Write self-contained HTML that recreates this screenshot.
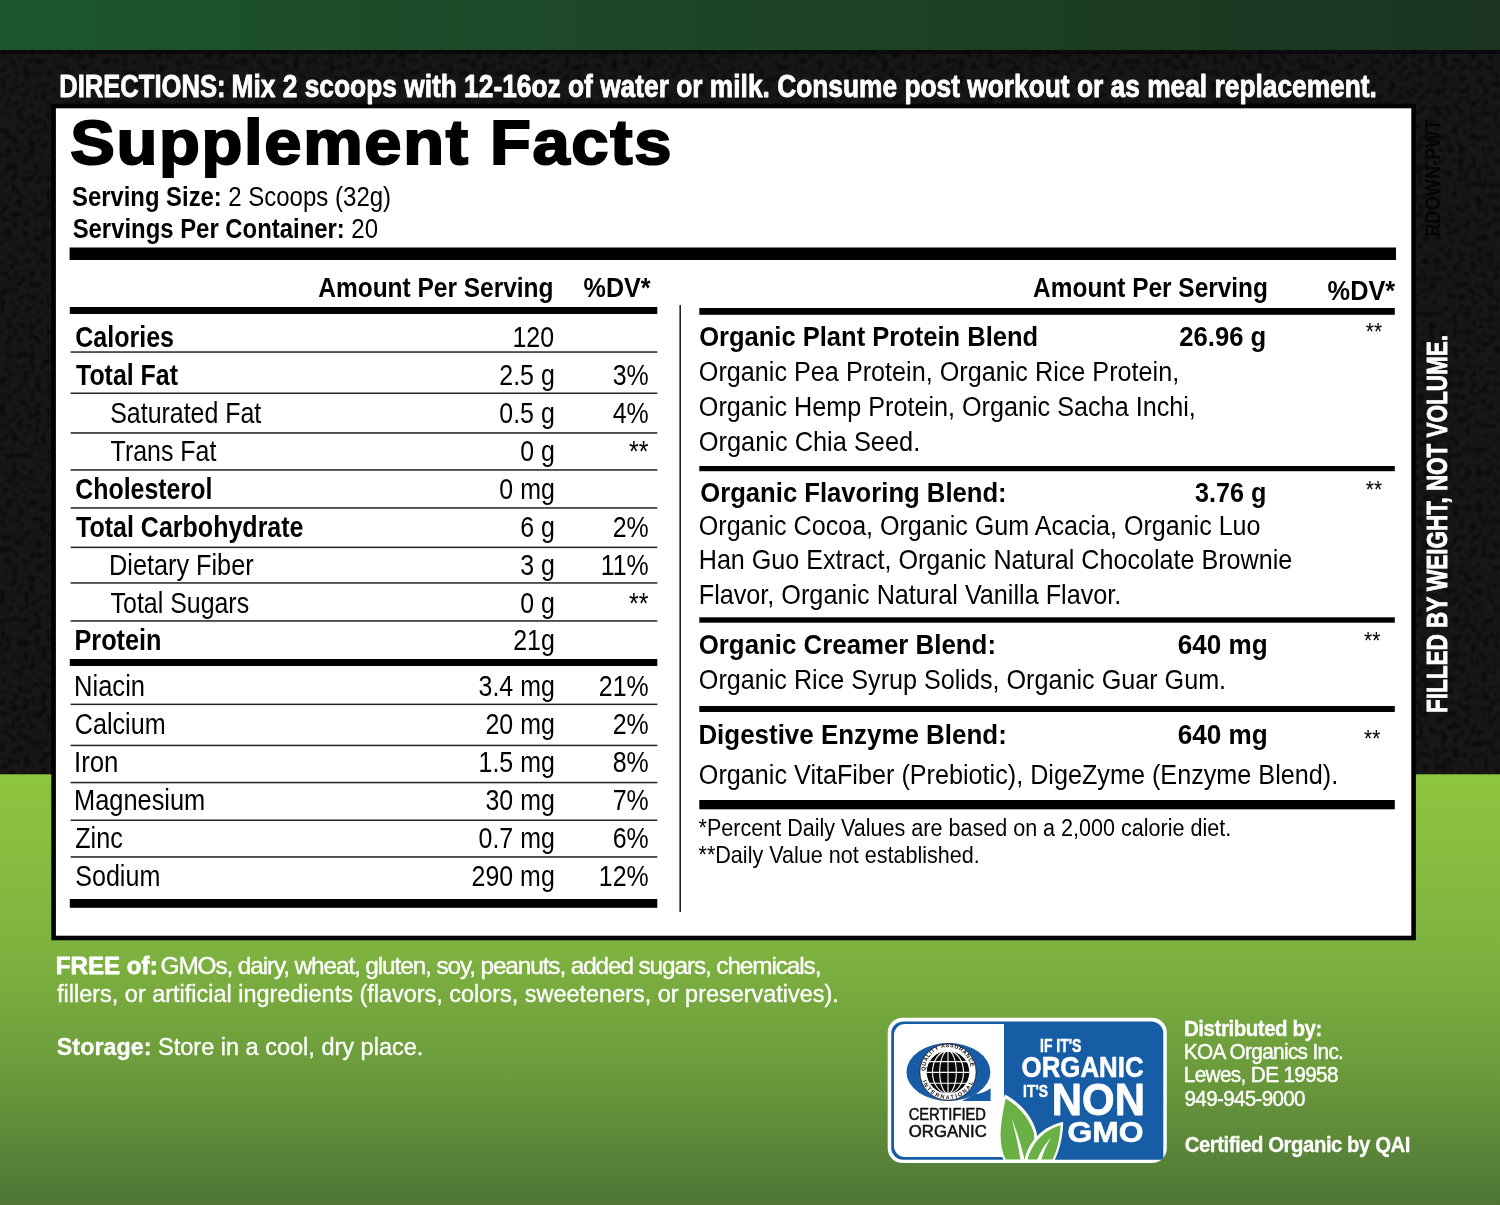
<!DOCTYPE html>
<html><head><meta charset="utf-8"><title>Supplement Facts</title>
<style>
html,body{margin:0;padding:0;background:#111;}
svg{display:block;font-family:'Liberation Sans', sans-serif;}
text{white-space:pre;}
</style></head><body>
<svg width="1500" height="1205" viewBox="0 0 1500 1205">
<defs>
<linearGradient id="gtop" x1="0" x2="1" y1="0" y2="0"><stop offset="0" stop-color="#1c562c"/><stop offset="0.5" stop-color="#1c4426"/><stop offset="1" stop-color="#1a3420"/></linearGradient>
<linearGradient id="gbot" x1="0" x2="0" y1="0" y2="1"><stop offset="0" stop-color="#8dc63f"/><stop offset="0.4" stop-color="#7fb340"/><stop offset="0.7" stop-color="#6a9a3b"/><stop offset="1" stop-color="#4e7536"/></linearGradient>
<filter id="noise" x="0" y="0" width="100%" height="100%"><feTurbulence type="fractalNoise" baseFrequency="0.17" numOctaves="2" seed="7"/><feColorMatrix type="matrix" values="0 0 0 0 0  0 0 0 0 0  0 0 0 0 0  0 0 0 -4.5 2.35"/><feGaussianBlur stdDeviation="0.8"/></filter>
</defs>
<rect x="0" y="0" width="1500" height="1205" fill="#181818"/>
<rect x="0" y="50" width="1500" height="725" fill="#000" filter="url(#noise)" opacity="0.55"/>
<rect x="0" y="50" width="1500" height="4" fill="#000" opacity="0.5"/>
<rect x="0" y="0" width="1500" height="50" fill="url(#gtop)"/>
<rect x="0" y="774.3" width="1500" height="431" fill="url(#gbot)"/>
<rect x="53.6" y="106" width="1360" height="832" fill="#fff" stroke="#000" stroke-width="4.6"/>
<rect x="69.6" y="247.5" width="1326.4" height="12.5" fill="#000"/>
<rect x="69.8" y="307" width="587.5" height="7" fill="#000"/>
<rect x="70.6" y="351.3" width="586.7" height="1.5" fill="#222"/>
<rect x="70.6" y="392.5" width="586.7" height="1.5" fill="#222"/>
<rect x="70.6" y="432.2" width="586.7" height="1.5" fill="#222"/>
<rect x="70.6" y="469.2" width="586.7" height="1.5" fill="#222"/>
<rect x="70.6" y="507.2" width="586.7" height="1.5" fill="#222"/>
<rect x="70.6" y="546.6" width="586.7" height="1.5" fill="#222"/>
<rect x="70.6" y="582.2" width="586.7" height="1.5" fill="#222"/>
<rect x="70.6" y="620.2" width="586.7" height="1.5" fill="#222"/>
<rect x="70.6" y="703.6" width="586.7" height="1.5" fill="#222"/>
<rect x="70.6" y="744.7" width="586.7" height="1.5" fill="#222"/>
<rect x="70.6" y="781.8000000000001" width="586.7" height="1.5" fill="#222"/>
<rect x="70.6" y="819.5" width="586.7" height="1.5" fill="#222"/>
<rect x="70.6" y="856.2" width="586.7" height="1.5" fill="#222"/>
<rect x="69.8" y="659" width="587.5" height="7" fill="#000"/>
<rect x="69.8" y="899" width="587.5" height="8.8" fill="#000"/>
<rect x="679.4" y="305" width="1.6" height="607" fill="#222"/>
<rect x="699.3" y="308" width="695.5" height="6.8" fill="#000"/>
<rect x="699.3" y="466" width="695.5" height="5.2" fill="#000"/>
<rect x="699.3" y="617.3" width="695.5" height="5.4" fill="#000"/>
<rect x="699.3" y="706" width="695.5" height="6" fill="#000"/>
<rect x="699.3" y="800" width="695.5" height="9.3" fill="#000"/>
<text transform="translate(1446.8,713) rotate(-90)" font-size="29" font-weight="bold" fill="#fff" stroke="#fff" stroke-width="0.9" textLength="378" lengthAdjust="spacingAndGlyphs">FILLED BY WEIGHT, NOT VOLUME.</text>
<text transform="translate(1440,236.5) rotate(-90)" font-size="22" font-weight="bold" fill="#050505" textLength="117" lengthAdjust="spacingAndGlyphs">RDOWN-PWT</text>

<g id="badge">
<rect x="887.7" y="1017.7" width="279.1" height="145.4" rx="15" ry="15" fill="#fff"/>
<path d="M903.2 1021.4 H1151.3 a12 12 0 0 1 12 12 V1156.8 a3 3 0 0 1 -3 3 H903.2 a12 12 0 0 1 -12 -12 V1033.4 a12 12 0 0 1 12 -12 Z" fill="#175da6"/>
<path d="M1004 1024.1 H905 a11 11 0 0 0 -11 11 V1146 a11 11 0 0 0 11 11 H1004 Z" fill="#fff"/>
<!-- Q mark -->
<ellipse cx="948.4" cy="1072" rx="42" ry="29" fill="#175da6"/>
<path d="M962 1101 H990.6 V1088.2 C986 1091.5 981 1093.5 975 1094 Z" fill="#175da6"/>
<circle cx="948" cy="1072.1" r="28.2" fill="#fff" stroke="#111" stroke-width="0.8"/>
<circle cx="948" cy="1072.2" r="21.3" fill="#0a0a0a"/>
<g fill="none" stroke="#fff" stroke-width="1.1">
<line x1="948" y1="1051" x2="948" y2="1093.5"/>
<ellipse cx="948" cy="1072.2" rx="8.3" ry="21.3"/>
<ellipse cx="948" cy="1072.2" rx="15.5" ry="21.3"/>
<line x1="929" y1="1061.6" x2="967" y2="1061.6"/>
<line x1="926.7" y1="1072.4" x2="969.3" y2="1072.4"/>
<line x1="929" y1="1083.2" x2="967" y2="1083.2"/>
</g>
<path id="qaiTop" d="M925.33 1071.01 A22.7 22.7 0 1 1 970.67 1071.01" fill="none"/>
<path id="qaiBot" d="M922.47 1080.99 A27.0 27.0 0 0 0 973.03 1082.31" fill="none"/>
<text font-size="5.6" font-weight="bold" fill="#111"><textPath href="#qaiTop" textLength="68.9" lengthAdjust="spacing">QUALITY ASSURANCE</textPath></text>
<text font-size="5.6" font-weight="bold" fill="#111"><textPath href="#qaiBot" textLength="65.5" lengthAdjust="spacing">INTERNATIONAL</textPath></text>
<!-- leaves -->
<path d="M1005 1094.5 C1017 1101 1031 1113 1036.5 1132 C1038.5 1141 1034 1152 1027 1160.5 H1003.8 C998.5 1150 996.8 1138 998.6 1124 C1000 1113 1002.5 1102 1005 1094.5 Z" fill="#fff"/>
<path d="M1005.8 1098.5 C1016.5 1105 1028.5 1116 1033.8 1132.5 C1035.6 1141 1031.5 1151 1025.5 1159.6 H1005.6 C1001 1150 999.6 1138 1001.2 1125 C1002.2 1115 1004 1106 1005.8 1098.5 Z" fill="#69b145"/>
<path d="M1011.5 1118 C1016.5 1130 1021.5 1146 1024.5 1159.8 L1020.5 1159.8 C1018.5 1146 1015 1131 1011.5 1118 Z" fill="#fff"/>
<path d="M1063.2 1121.8 C1051 1124.5 1040.5 1131 1033 1141 C1028.5 1147 1025.5 1154 1024.5 1160.5 H1054.5 C1060 1149 1063 1135 1063.2 1121.8 Z" fill="#fff"/>
<path d="M1060.6 1125.2 C1050.5 1128 1042 1134 1035.5 1142.5 C1031.5 1148 1028.8 1154 1027.6 1159.6 H1052.6 C1057.6 1149 1060.2 1137 1060.6 1125.2 Z" fill="#69b145"/>
<path d="M1051.5 1137 C1045 1144 1040 1152 1037.2 1159.8 L1041.3 1159.8 C1043.5 1152 1047 1144 1051.5 1137 Z" fill="#fff"/>
</g>

<text transform="translate(59.20,96.60) scale(0.7996,1)" font-size="32" fill="#fff" font-weight="bold" stroke="#fff" stroke-width="0.9" stroke-linejoin="round">DIRECTIONS:</text>
<text transform="translate(231.55,96.60) scale(0.8227,1)" font-size="32" fill="#fff" font-weight="bold" stroke="#fff" stroke-width="0.9" stroke-linejoin="round">Mix 2 scoops with 12-16oz of water or milk. Consume post workout or as meal replacement.</text>
<text transform="translate(70.16,164.20) scale(1.0711,1)" font-size="62.4" fill="#000" font-weight="bold" letter-spacing="1.6" stroke="#000" stroke-width="2.0" stroke-linejoin="miter">Supplement Facts</text>
<text transform="translate(72.03,205.80) scale(0.8517,1)" font-size="28" fill="#000" font-weight="bold">Serving Size:</text>
<text transform="translate(228.17,205.80) scale(0.8588,1)" font-size="28" fill="#000">2 Scoops (32g)</text>
<text transform="translate(72.63,237.80) scale(0.8538,1)" font-size="28" fill="#000" font-weight="bold">Servings Per Container:</text>
<text transform="translate(351.37,237.80) scale(0.8581,1)" font-size="28" fill="#000">20</text>
<text transform="translate(318.32,296.80) scale(0.8899,1)" font-size="27.5" fill="#000" font-weight="bold">Amount Per Serving</text>
<text transform="translate(583.61,296.80) scale(0.9141,1)" font-size="27.5" fill="#000" font-weight="bold">%DV*</text>
<text transform="translate(1033.12,296.80) scale(0.8888,1)" font-size="27.5" fill="#000" font-weight="bold">Amount Per Serving</text>
<text transform="translate(1327.60,299.50) scale(0.9223,1)" font-size="27.5" fill="#000" font-weight="bold">%DV*</text>
<text transform="translate(75.22,347.00) scale(0.8633,1)" font-size="29" fill="#000" font-weight="bold">Calories</text>
<text transform="translate(512.41,347.00) scale(0.8600,1)" font-size="29" fill="#000">120</text>
<text transform="translate(76.00,385.00) scale(0.8600,1)" font-size="29" fill="#000" font-weight="bold">Total Fat</text>
<text transform="translate(499.33,385.00) scale(0.8600,1)" font-size="29" fill="#000">2.5 g</text>
<text transform="translate(612.70,385.00) scale(0.8600,1)" font-size="29" fill="#000">3%</text>
<text transform="translate(110.22,423.00) scale(0.8600,1)" font-size="29" fill="#000">Saturated Fat</text>
<text transform="translate(499.33,423.00) scale(0.8600,1)" font-size="29" fill="#000">0.5 g</text>
<text transform="translate(612.70,423.00) scale(0.8600,1)" font-size="29" fill="#000">4%</text>
<text transform="translate(110.61,461.00) scale(0.8600,1)" font-size="29" fill="#000">Trans Fat</text>
<text transform="translate(520.13,461.00) scale(0.8600,1)" font-size="29" fill="#000">0 g</text>
<text transform="translate(628.94,461.00) scale(0.8600,1)" font-size="29" fill="#000">**</text>
<text transform="translate(75.22,499.00) scale(0.8600,1)" font-size="29" fill="#000" font-weight="bold">Cholesterol</text>
<text transform="translate(499.36,499.00) scale(0.8600,1)" font-size="29" fill="#000">0 mg</text>
<text transform="translate(76.00,537.00) scale(0.8631,1)" font-size="29" fill="#000" font-weight="bold">Total Carbohydrate</text>
<text transform="translate(520.13,537.00) scale(0.8600,1)" font-size="29" fill="#000">6 g</text>
<text transform="translate(612.70,537.00) scale(0.8600,1)" font-size="29" fill="#000">2%</text>
<text transform="translate(109.02,575.00) scale(0.8718,1)" font-size="29" fill="#000">Dietary Fiber</text>
<text transform="translate(520.13,575.00) scale(0.8600,1)" font-size="29" fill="#000">3 g</text>
<text transform="translate(600.68,575.00) scale(0.8600,1)" font-size="29" fill="#000">11%</text>
<text transform="translate(110.61,613.00) scale(0.8596,1)" font-size="29" fill="#000">Total Sugars</text>
<text transform="translate(520.13,613.00) scale(0.8600,1)" font-size="29" fill="#000">0 g</text>
<text transform="translate(628.94,613.00) scale(0.8600,1)" font-size="29" fill="#000">**</text>
<text transform="translate(74.42,650.00) scale(0.8729,1)" font-size="29" fill="#000" font-weight="bold">Protein</text>
<text transform="translate(513.19,650.00) scale(0.8600,1)" font-size="29" fill="#000">21g</text>
<text transform="translate(74.00,695.80) scale(0.8815,1)" font-size="29" fill="#000">Niacin</text>
<text transform="translate(478.56,695.80) scale(0.8600,1)" font-size="29" fill="#000">3.4 mg</text>
<text transform="translate(598.83,695.80) scale(0.8600,1)" font-size="29" fill="#000">21%</text>
<text transform="translate(74.82,734.20) scale(0.8677,1)" font-size="29" fill="#000">Calcium</text>
<text transform="translate(485.48,734.20) scale(0.8600,1)" font-size="29" fill="#000">20 mg</text>
<text transform="translate(612.70,734.20) scale(0.8600,1)" font-size="29" fill="#000">2%</text>
<text transform="translate(73.98,771.80) scale(0.8898,1)" font-size="29" fill="#000">Iron</text>
<text transform="translate(478.56,771.80) scale(0.8600,1)" font-size="29" fill="#000">1.5 mg</text>
<text transform="translate(612.70,771.80) scale(0.8600,1)" font-size="29" fill="#000">8%</text>
<text transform="translate(74.02,809.80) scale(0.8759,1)" font-size="29" fill="#000">Magnesium</text>
<text transform="translate(485.48,809.80) scale(0.8600,1)" font-size="29" fill="#000">30 mg</text>
<text transform="translate(612.70,809.80) scale(0.8600,1)" font-size="29" fill="#000">7%</text>
<text transform="translate(75.21,847.80) scale(0.8685,1)" font-size="29" fill="#000">Zinc</text>
<text transform="translate(478.56,847.80) scale(0.8600,1)" font-size="29" fill="#000">0.7 mg</text>
<text transform="translate(612.70,847.80) scale(0.8600,1)" font-size="29" fill="#000">6%</text>
<text transform="translate(75.22,885.80) scale(0.8653,1)" font-size="29" fill="#000">Sodium</text>
<text transform="translate(471.61,885.80) scale(0.8600,1)" font-size="29" fill="#000">290 mg</text>
<text transform="translate(598.83,885.80) scale(0.8600,1)" font-size="29" fill="#000">12%</text>
<text transform="translate(699.20,346.00) scale(0.9458,1)" font-size="27" fill="#000" font-weight="bold">Organic Plant Protein Blend</text>
<text transform="translate(1179.20,346.00) scale(0.9518,1)" font-size="27" fill="#000" font-weight="bold">26.96 g</text>
<text transform="translate(698.82,380.50) scale(0.9336,1)" font-size="27" fill="#000">Organic Pea Protein, Organic Rice Protein,</text>
<text transform="translate(698.82,415.50) scale(0.9330,1)" font-size="27" fill="#000">Organic Hemp Protein, Organic Sacha Inchi,</text>
<text transform="translate(698.81,450.70) scale(0.9400,1)" font-size="27" fill="#000">Organic Chia Seed.</text>
<text transform="translate(700.20,502.00) scale(0.9507,1)" font-size="27" fill="#000" font-weight="bold">Organic Flavoring Blend:</text>
<text transform="translate(1194.91,502.00) scale(0.9329,1)" font-size="27" fill="#000" font-weight="bold">3.76 g</text>
<text transform="translate(698.82,534.70) scale(0.9293,1)" font-size="27" fill="#000">Organic Cocoa, Organic Gum Acacia, Organic Luo</text>
<text transform="translate(698.74,569.30) scale(0.9307,1)" font-size="27" fill="#000">Han Guo Extract, Organic Natural Chocolate Brownie</text>
<text transform="translate(698.73,604.00) scale(0.9341,1)" font-size="27" fill="#000">Flavor, Organic Natural Vanilla Flavor.</text>
<text transform="translate(698.69,654.00) scale(0.9577,1)" font-size="27" fill="#000" font-weight="bold">Organic Creamer Blend:</text>
<text transform="translate(1177.68,654.00) scale(0.9671,1)" font-size="27" fill="#000" font-weight="bold">640 mg</text>
<text transform="translate(698.82,688.50) scale(0.9324,1)" font-size="27" fill="#000">Organic Rice Syrup Solids, Organic Guar Gum.</text>
<text transform="translate(698.38,744.00) scale(0.9607,1)" font-size="27" fill="#000" font-weight="bold">Digestive Enzyme Blend:</text>
<text transform="translate(1177.68,744.00) scale(0.9671,1)" font-size="27" fill="#000" font-weight="bold">640 mg</text>
<text transform="translate(698.82,783.50) scale(0.9332,1)" font-size="27" fill="#000">Organic VitaFiber (Prebiotic), DigeZyme (Enzyme Blend).</text>
<text transform="translate(1365.74,340.20) scale(0.8758,1)" font-size="24" fill="#000">**</text>
<text transform="translate(1365.74,497.70) scale(0.8758,1)" font-size="24" fill="#000">**</text>
<text transform="translate(1364.04,648.70) scale(0.8758,1)" font-size="24" fill="#000">**</text>
<text transform="translate(1364.04,747.40) scale(0.8758,1)" font-size="24" fill="#000">**</text>
<text transform="translate(698.52,836.00) scale(0.9374,1)" font-size="23" fill="#000">*Percent Daily Values are based on a 2,000 calorie diet.</text>
<text transform="translate(698.52,862.70) scale(0.9380,1)" font-size="23" fill="#000">**Daily Value not established.</text>
<text transform="translate(55.79,974.20) scale(1.0059,1)" font-size="24" fill="#fff" font-weight="bold" stroke="#fff" stroke-width="0.8" stroke-linejoin="round">FREE of:</text>
<text transform="translate(160.58,974.20) scale(1.0158,1)" font-size="24" fill="#fff" letter-spacing="-1.1" stroke="#fff" stroke-width="0.35" stroke-linejoin="round">GMOs, dairy, wheat, gluten, soy, peanuts, added sugars, chemicals,</text>
<text transform="translate(57.11,1002.20) scale(0.9772,1)" font-size="24" fill="#fff" stroke="#fff" stroke-width="0.35" stroke-linejoin="round">fillers, or artificial ingredients (flavors, colors, sweeteners, or preservatives).</text>
<text transform="translate(56.82,1054.80) scale(0.9719,1)" font-size="24" fill="#fff" font-weight="bold" stroke="#fff" stroke-width="0.3" stroke-linejoin="round">Storage:</text>
<text transform="translate(158.02,1054.80) scale(0.9804,1)" font-size="24" fill="#fff" stroke="#fff" stroke-width="0.35" stroke-linejoin="round">Store in a cool, dry place.</text>
<text transform="translate(1183.99,1035.50) scale(0.9337,1)" font-size="22" fill="#fff" font-weight="bold" letter-spacing="-0.5" stroke="#fff" stroke-width="0.3" stroke-linejoin="round">Distributed by:</text>
<text transform="translate(1183.80,1059.20) scale(0.9434,1)" font-size="22" fill="#fff" letter-spacing="-0.7" stroke="#fff" stroke-width="0.4" stroke-linejoin="round">KOA Organics Inc.</text>
<text transform="translate(1183.80,1082.30) scale(0.9452,1)" font-size="22" fill="#fff" letter-spacing="-0.7" stroke="#fff" stroke-width="0.4" stroke-linejoin="round">Lewes, DE 19958</text>
<text transform="translate(1184.56,1106.00) scale(0.9367,1)" font-size="22" fill="#fff" letter-spacing="-0.7" stroke="#fff" stroke-width="0.4" stroke-linejoin="round">949-945-9000</text>
<text transform="translate(1184.67,1152.20) scale(0.9256,1)" font-size="22" fill="#fff" font-weight="bold" letter-spacing="-0.5" stroke="#fff" stroke-width="0.3" stroke-linejoin="round">Certified Organic by QAI</text>
<text transform="translate(908.64,1120.30) scale(0.9419,1)" font-size="15.6" fill="#111" stroke="#111" stroke-width="0.55" stroke-linejoin="round">CERTIFIED</text>
<text transform="translate(908.85,1136.50) scale(1.0707,1)" font-size="15.6" fill="#111" stroke="#111" stroke-width="0.55" stroke-linejoin="round">ORGANIC</text>
<text transform="translate(1040.07,1051.70) scale(0.7752,1)" font-size="18" fill="#fff" font-weight="bold" stroke="#fff" stroke-width="0.5" stroke-linejoin="round">IF IT'S</text>
<text transform="translate(1021.59,1077.20) scale(0.8677,1)" font-size="29.8" fill="#fff" font-weight="bold" stroke="#fff" stroke-width="0.6" stroke-linejoin="round">ORGANIC</text>
<text transform="translate(1023.12,1097.20) scale(0.8024,1)" font-size="17.3" fill="#fff" font-weight="bold" stroke="#fff" stroke-width="0.5" stroke-linejoin="round">IT'S</text>
<text transform="translate(1051.78,1115.20) scale(0.9319,1)" font-size="45" fill="#fff" font-weight="bold" stroke="#fff" stroke-width="0.8" stroke-linejoin="round">NON</text>
<text transform="translate(1067.51,1142.20) scale(1.0856,1)" font-size="29.3" fill="#fff" font-weight="bold" stroke="#fff" stroke-width="0.6" stroke-linejoin="round">GMO</text>
</svg>
</body></html>
